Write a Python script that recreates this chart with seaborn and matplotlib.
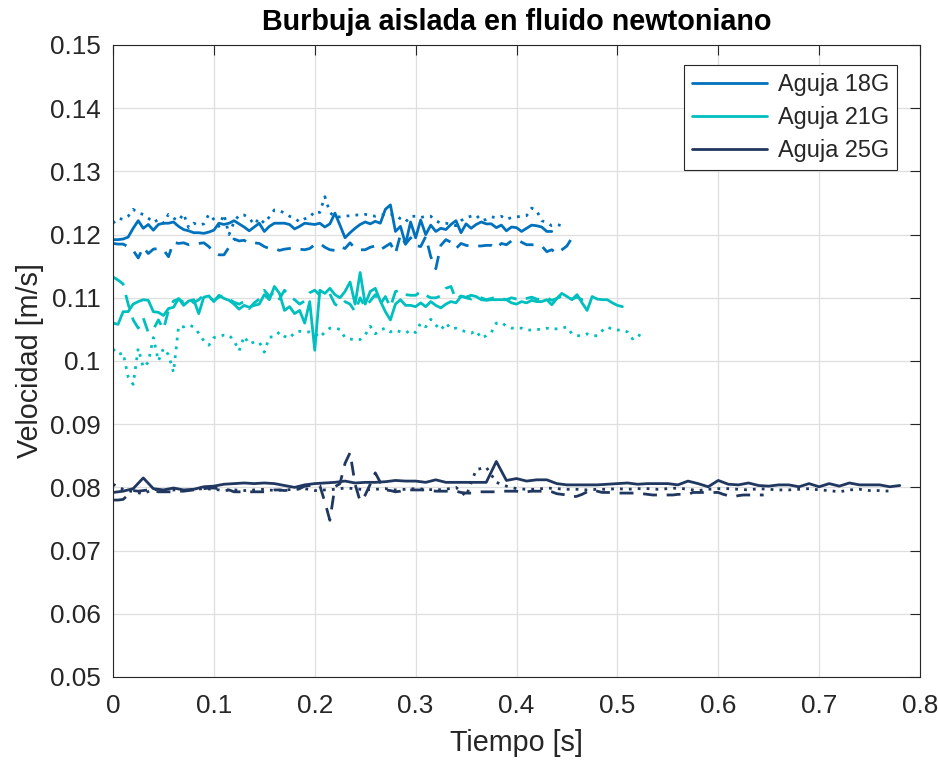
import numpy as np
import pandas as pd
import matplotlib
matplotlib.use("Agg")
import matplotlib.pyplot as plt
import seaborn as sns

# ---------------- data (m/s) ----------------
DT_FINE = 0.005
DT_COARSE = 0.01

v18_solid = [0.1192, 0.1192, 0.1193, 0.1196, 0.1210, 0.1222, 0.1210, 0.1216, 0.1207, 0.1216,
             0.1218, 0.1218, 0.1220, 0.1213, 0.1208, 0.1206, 0.1203, 0.1203, 0.1202, 0.1204,
             0.1207, 0.1218, 0.1216, 0.1218, 0.1222, 0.1217, 0.1212, 0.1206, 0.1212, 0.1218,
             0.1205, 0.1213, 0.1218, 0.1218, 0.1218, 0.1216, 0.1209, 0.1213, 0.1218, 0.1217,
             0.1216, 0.1218, 0.1212, 0.1217, 0.1234, 0.1215, 0.1195, 0.1203, 0.1210, 0.1216,
             0.1220, 0.1217, 0.1221, 0.1218, 0.1240, 0.1247, 0.1205, 0.1213, 0.1185, 0.1220,
             0.1195, 0.1223, 0.1200, 0.1215, 0.1205, 0.1210, 0.1208, 0.1216, 0.1222, 0.1203,
             0.1217, 0.1210, 0.1216, 0.1220, 0.1217, 0.1217, 0.1211, 0.1215, 0.1206, 0.1212,
             0.1211, 0.1205, 0.1210, 0.1215, 0.1214, 0.1212, 0.1205, 0.1205]
v18_dashed = [0.1186, 0.1185, 0.1185, 0.1181, 0.1175, 0.1163, 0.1180, 0.1170, 0.1177, 0.1178,
              0.1176, 0.1165, 0.1188, 0.1186, 0.1187, 0.1184, 0.1186, 0.1186, 0.1187, 0.1181,
              0.1172, 0.1168, 0.1168, 0.1180, 0.1193, 0.1190, 0.1191, 0.1186, 0.1187, 0.1186,
              0.1181, 0.1178, 0.1178, 0.1175, 0.1177, 0.1178, 0.1177, 0.1177, 0.1176, 0.1178,
              0.1184, 0.1186, 0.1180, 0.1176, 0.1175, 0.1181, 0.1178, 0.1187, 0.1178, 0.1176,
              0.1176, 0.1180, 0.1182, 0.1176, 0.1181, 0.1186, 0.1170, 0.1200, 0.1185, 0.1195,
              0.1183, 0.1181, 0.1197, 0.1165, 0.1146, 0.1183, 0.1192, 0.1188, 0.1178, 0.1186,
              0.1183, 0.1182, 0.1182, 0.1182, 0.1183, 0.1183, 0.1178, 0.1186, 0.1184, 0.1190,
              0.1192, 0.1188, 0.1184, 0.1184, 0.1183, 0.1182, 0.1173, 0.1176, 0.1170, 0.1176,
              0.1182, 0.1195, 0.1188]
v18_dotted = [0.1218, 0.1226, 0.1224, 0.1229, 0.1240, 0.1234, 0.1232, 0.1226, 0.1219, 0.1224,
              0.1218, 0.1232, 0.1226, 0.1222, 0.1233, 0.1211, 0.1218, 0.1215, 0.1217, 0.1232,
              0.1224, 0.1213, 0.1232, 0.1200, 0.1220, 0.1231, 0.1231, 0.1226, 0.1216, 0.1226,
              0.1218, 0.1228, 0.1239, 0.1238, 0.1234, 0.1229, 0.1226, 0.1220, 0.1225, 0.1227,
              0.1237, 0.1235, 0.1260, 0.1235, 0.1228, 0.1228, 0.1229, 0.1230, 0.1231, 0.1231,
              0.1232, 0.1231, 0.1229, 0.1231, 0.1232, 0.1232, 0.1231, 0.1225, 0.1220, 0.1229,
              0.1229, 0.1227, 0.1229, 0.1229, 0.1222, 0.1218, 0.1218, 0.1216, 0.1214, 0.1222,
              0.1227, 0.1229, 0.1231, 0.1222, 0.1224, 0.1228, 0.1227, 0.1229, 0.1224, 0.1227,
              0.1228, 0.1229, 0.1230, 0.1242, 0.1238, 0.1222, 0.1219, 0.1214, 0.1216, 0.1214]

v21_solid = [0.1060, 0.1058, 0.1078, 0.1078, 0.1090, 0.1094, 0.1097, 0.1096, 0.1078, 0.1077,
             0.1072, 0.1083, 0.1085, 0.1099, 0.1088, 0.1095, 0.1097, 0.1075, 0.1101, 0.1103,
             0.1094, 0.1104, 0.1099, 0.1096, 0.1090, 0.1082, 0.1088, 0.1085, 0.1088, 0.1090,
             0.1105, 0.1097, 0.1118, 0.1107, 0.1080, 0.1086, 0.1075, 0.1080, 0.1060, 0.1094,
             0.1017, 0.1112, 0.1107, 0.1115, 0.1105, 0.1100, 0.1110, 0.1125, 0.1090, 0.1140,
             0.1090, 0.1110, 0.1115, 0.1095, 0.1078, 0.1065, 0.1090, 0.1097, 0.1088, 0.1088,
             0.1086, 0.1092, 0.1086, 0.1094, 0.1088, 0.1084, 0.1090, 0.1094, 0.1092, 0.1102,
             0.1101, 0.1104, 0.1102, 0.1097, 0.1096, 0.1097, 0.1097, 0.1097, 0.1097, 0.1092,
             0.1090, 0.1094, 0.1092, 0.1096, 0.1094, 0.1094, 0.1097, 0.1089, 0.1099, 0.1107,
             0.1102, 0.1097, 0.1105, 0.1092, 0.1080, 0.1102, 0.1098, 0.1097, 0.1097, 0.1092,
             0.1088, 0.1086]
v21_dashed = [0.1133, 0.1128, 0.1122, 0.1090, 0.1065, 0.1052, 0.1068, 0.1045, 0.1050, 0.1065,
              0.1050, 0.1080, 0.1095, 0.1098, 0.1093, 0.1100, 0.1092, 0.1097, 0.1104, 0.1100,
              0.1096, 0.1101, 0.1104, 0.1098, 0.1093, 0.1090, 0.1094, 0.1083, 0.1092, 0.1098,
              0.1112, 0.1102, 0.1110, 0.1098, 0.1112, 0.1102, 0.1097, 0.1090, 0.1095, 0.1108,
              0.1112, 0.1104, 0.1106, 0.1106, 0.1090, 0.1085, 0.1094, 0.1090, 0.1078, 0.1100,
              0.1085, 0.1095, 0.1105, 0.1090, 0.1102, 0.1085, 0.1110, 0.1112, 0.1105, 0.1104,
              0.1104, 0.1110, 0.1104, 0.1100, 0.1100, 0.1103, 0.1115, 0.1118, 0.1097, 0.1103,
              0.1100, 0.1098, 0.1102, 0.1100, 0.1097, 0.1099, 0.1101, 0.1099, 0.1097, 0.1100,
              0.1098, 0.1096, 0.1099, 0.1101, 0.1098, 0.1097, 0.1100, 0.1096, 0.1099, 0.1103,
              0.1100, 0.1098, 0.1101, 0.1097, 0.1099]
v21_dotted = [0.1019, 0.1010, 0.1013, 0.0975, 0.0963, 0.1020, 0.0990, 0.0998, 0.1037, 0.1000,
              0.1020, 0.1010, 0.0982, 0.1055, 0.1054, 0.1057, 0.1054, 0.1044, 0.1032, 0.1025,
              0.1037, 0.1039, 0.1041, 0.1041, 0.1032, 0.1016, 0.1039, 0.1027, 0.1030, 0.1030,
              0.1014, 0.1038, 0.1038, 0.1046, 0.1039, 0.1036, 0.1045, 0.1047, 0.1046, 0.1046,
              0.1044, 0.1037, 0.1046, 0.1052, 0.1052, 0.1050, 0.1037, 0.1035, 0.1033, 0.1034,
              0.1041, 0.1055, 0.1043, 0.1049, 0.1052, 0.1046, 0.1049, 0.1046, 0.1044, 0.1049,
              0.1045, 0.1060, 0.1054, 0.1066, 0.1057, 0.1049, 0.1060, 0.1051, 0.1052, 0.1049,
              0.1046, 0.1044, 0.1048, 0.1036, 0.1040, 0.1045, 0.1060, 0.1061, 0.1055, 0.1052,
              0.1052, 0.1052, 0.1049, 0.1049, 0.1050, 0.1050, 0.1052, 0.1050, 0.1051, 0.1052,
              0.1054, 0.1043, 0.1040, 0.1040, 0.1043, 0.1040, 0.1040, 0.1048, 0.1054, 0.1050,
              0.1049, 0.1049, 0.1046, 0.1035, 0.1042, 0.1038]

v25_solid = [0.0792, 0.0794, 0.0798, 0.0815, 0.0798, 0.0796, 0.0799, 0.0796, 0.0797, 0.0801,
             0.0802, 0.0805, 0.0806, 0.0807, 0.0806, 0.0807, 0.0806, 0.0803, 0.0800, 0.0804,
             0.0806, 0.0807, 0.0808, 0.0810, 0.0807, 0.0808, 0.0808, 0.0809, 0.0811, 0.0810,
             0.0810, 0.0808, 0.0812, 0.0808, 0.0808, 0.0808, 0.0808, 0.0808, 0.0841, 0.0811,
             0.0814, 0.0810, 0.0812, 0.0812, 0.0806, 0.0804, 0.0804, 0.0804, 0.0804, 0.0805,
             0.0806, 0.0807, 0.0805, 0.0806, 0.0806, 0.0806, 0.0804, 0.0810, 0.0806, 0.0801,
             0.0811, 0.0805, 0.0804, 0.0807, 0.0803, 0.0802, 0.0804, 0.0804, 0.0801, 0.0806,
             0.0801, 0.0806, 0.0802, 0.0807, 0.0804, 0.0804, 0.0804, 0.0801, 0.0803]
v25_dashed = [0.0780, 0.0780, 0.0781, 0.0788, 0.0795, 0.0794, 0.0795, 0.0796, 0.0795, 0.0793,
              0.0793, 0.0793, 0.0793, 0.0794, 0.0794, 0.0795, 0.0796, 0.0796, 0.0798, 0.0799,
              0.0799, 0.0798, 0.0797, 0.0796, 0.0793, 0.0793, 0.0793, 0.0793, 0.0793, 0.0793,
              0.0793, 0.0794, 0.0796, 0.0796, 0.0795, 0.0796, 0.0797, 0.0798, 0.0802, 0.0803,
              0.0805, 0.0803, 0.0777, 0.0748, 0.0801, 0.0806, 0.0838, 0.0855, 0.0805, 0.0778,
              0.0788, 0.0805, 0.0823, 0.0808, 0.0796, 0.0795, 0.0793, 0.0794, 0.0796, 0.0796,
              0.0796, 0.0796, 0.0796, 0.0795, 0.0794, 0.0794, 0.0794, 0.0794, 0.0794, 0.0792,
              0.0791, 0.0791, 0.0793, 0.0793, 0.0793, 0.0793, 0.0793, 0.0794, 0.0794, 0.0794,
              0.0794, 0.0792, 0.0793, 0.0794, 0.0794, 0.0794, 0.0794, 0.0793, 0.0790, 0.0789,
              0.0788, 0.0785, 0.0786, 0.0789, 0.0793, 0.0796, 0.0794, 0.0792, 0.0792, 0.0792,
              0.0791, 0.0791, 0.0791, 0.0791, 0.0791, 0.0790, 0.0789, 0.0788, 0.0788, 0.0788,
              0.0788, 0.0788, 0.0789, 0.0789, 0.0789, 0.0792, 0.0792, 0.0792, 0.0792, 0.0792,
              0.0792, 0.0789, 0.0787, 0.0785, 0.0787, 0.0788, 0.0788, 0.0788, 0.0788, 0.0788]
v25_dotted = [0.0805, 0.0797, 0.0793, 0.0790, 0.0797, 0.0795, 0.0796, 0.0795, 0.0797, 0.0798,
              0.0797, 0.0795, 0.0796, 0.0795, 0.0796, 0.0797, 0.0795, 0.0796, 0.0797, 0.0798,
              0.0795, 0.0796, 0.0797, 0.0799, 0.0798, 0.0796, 0.0797, 0.0798, 0.0796, 0.0797,
              0.0798, 0.0797, 0.0796, 0.0797, 0.0800, 0.0786, 0.0828, 0.0832, 0.0808, 0.0802,
              0.0798, 0.0797, 0.0797, 0.0799, 0.0798, 0.0797, 0.0797, 0.0796, 0.0797, 0.0797,
              0.0798, 0.0797, 0.0798, 0.0798, 0.0797, 0.0798, 0.0799, 0.0797, 0.0795, 0.0797,
              0.0798, 0.0798, 0.0797, 0.0796, 0.0798, 0.0797, 0.0796, 0.0796, 0.0797, 0.0798,
              0.0796, 0.0795, 0.0793, 0.0796, 0.0797, 0.0795, 0.0795, 0.0794]

needles = ["Aguja 18G", "Aguja 21G", "Aguja 25G"]
colors = ["#0072BD", "#00BFBF", "#20375F"]
x_ticks = [0, 0.1, 0.2, 0.3, 0.4, 0.5, 0.6, 0.7, 0.8]
x_labels = ["0", "0.1", "0.2", "0.3", "0.4", "0.5", "0.6", "0.7", "0.8"]
y_ticks = [0.05, 0.06, 0.07, 0.08, 0.09, 0.10, 0.11, 0.12, 0.13, 0.14, 0.15]
y_labels = ["0.05", "0.06", "0.07", "0.08", "0.09", "0.1", "0.11", "0.12", "0.13", "0.14", "0.15"]

series = [
    (0, "solid", v18_solid, DT_FINE), (0, "dashed", v18_dashed, DT_FINE), (0, "dotted", v18_dotted, DT_FINE),
    (1, "solid", v21_solid, DT_FINE), (1, "dashed", v21_dashed, DT_FINE), (1, "dotted", v21_dotted, DT_FINE),
    (2, "solid", v25_solid, DT_COARSE), (2, "dashed", v25_dashed, DT_FINE), (2, "dotted", v25_dotted, DT_COARSE),
]

# ---------------- style ----------------
sns.set_theme(style="white")
plt.rcParams["font.family"] = ["Liberation Sans", "DejaVu Sans"]
TXT = "#262626"
FS = 18.8

fig = plt.figure(figsize=(9.38, 7.6), dpi=100)
ax = fig.add_axes([113 / 938, 83 / 760, 807 / 938, 632 / 760])

styles = {"solid": "-", "dashed": (0, (5, 3.5)), "dotted": (0, (1, 2.2))}
for idx, kind, vals, dt in series:
    t = np.arange(len(vals)) * dt
    df = pd.DataFrame({"t": t, "v": vals})
    sns.lineplot(data=df, x="t", y="v", ax=ax, color=colors[idx],
                 linestyle=styles[kind], linewidth=2.0,
                 label=needles[idx] if kind == "solid" else None, legend=False)

ax.set_xlim(0, 0.8)
ax.set_ylim(0.05, 0.15)
ax.set_xticks(x_ticks)
ax.set_xticklabels(x_labels)
ax.set_yticks(y_ticks)
ax.set_yticklabels(y_labels)
ax.grid(True, color="#DFDFDF", linewidth=0.9)
ax.set_axisbelow(True)
for s in ax.spines.values():
    s.set_color(TXT)
    s.set_linewidth(0.8)
ax.tick_params(direction="in", top=True, right=True, length=7, width=0.8,
               color=TXT, labelcolor=TXT, labelsize=FS)
ax.tick_params(axis="y", pad=9)
ax.tick_params(axis="x", pad=12)

ax.set_xlabel("Tiempo [s]", fontsize=FS * 1.1, color=TXT, labelpad=8)
ax.set_ylabel("Velocidad [m/s]", fontsize=FS * 1.1, color=TXT, labelpad=4)
ax.set_title("Burbuja aislada en fluido newtoniano", fontsize=FS * 1.1,
             fontweight="bold", color="black", pad=11)

handles = [l for l in ax.get_lines() if not l.get_label().startswith("_")]
leg = ax.legend(handles=handles, labels=[h.get_label() for h in handles],
                loc="upper right", bbox_to_anchor=((897 - 113) / 807, (677 - 65) / 632),
                borderaxespad=0, fontsize=FS * 0.9, frameon=True, fancybox=False,
                handlelength=3.2, handletextpad=0.45, labelspacing=0.42,
                borderpad=0.35)
leg.get_frame().set_edgecolor(TXT)
leg.get_frame().set_linewidth(0.8)
leg.get_frame().set_alpha(1)
for h in leg.get_lines():
    h.set_linestyle("-")
    h.set_linewidth(2.0)

fig.savefig("out.png", dpi=100)
